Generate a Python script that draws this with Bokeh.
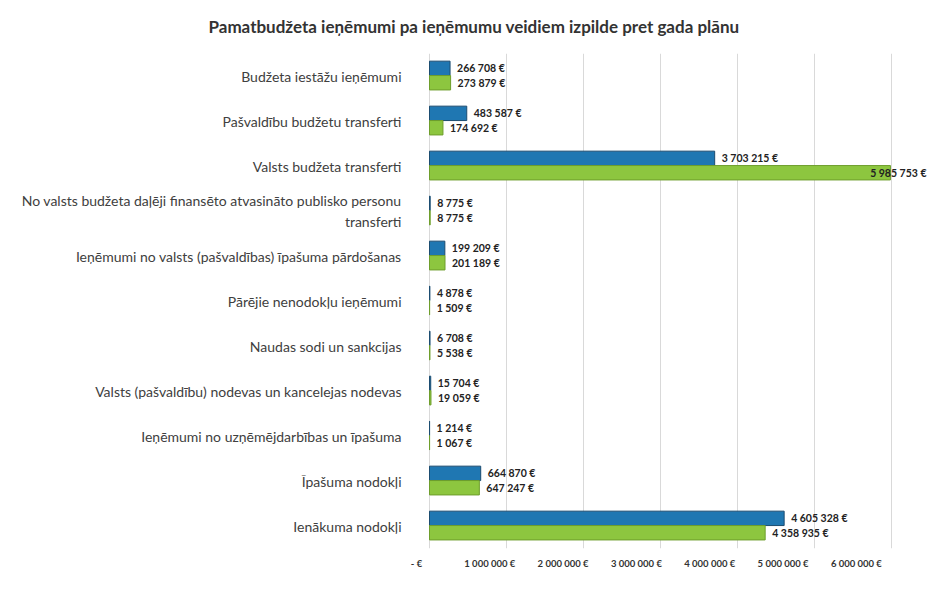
from bokeh.plotting import figure
from bokeh.models import (ColumnDataSource, FactorRange, FixedTicker, Legend, LegendItem,
                          Range1d, LinearAxis)
from bokeh.transform import dodge
from bokeh.core.properties import value
from bokeh.embed import file_html
from bokeh.resources import INLINE

categories = [
    "Budžeta iestāžu ieņēmumi",
    "Pašvaldību budžetu transferti",
    "Valsts budžeta transferti",
    "No valsts budžeta daļēji finansēto atvasināto publisko personu\ntransferti",
    "Ieņēmumi no valsts (pašvaldības) īpašuma pārdošanas",
    "Pārējie nenodokļu ieņēmumi",
    "Naudas sodi un sankcijas",
    "Valsts (pašvaldību) nodevas un kancelejas nodevas",
    "Ieņēmumi no uzņēmējdarbības un īpašuma",
    "Īpašuma nodokļi",
    "Ienākuma nodokļi",
]
izpilde_2019 = [266708, 483587, 3703215, 8775, 199209, 4878, 6708, 15704, 1214, 664870, 4605328]
plans_2019 = [273879, 174692, 5985753, 8775, 201189, 1509, 5538, 19059, 1067, 647247, 4358935]
tick_values = [0, 1000000, 2000000, 3000000, 4000000, 5000000, 6000000]
tick_labels = ["- €", "1 000 000 €", "2 000 000 €", "3 000 000 €", "4 000 000 €", "5 000 000 €", "6 000 000 €"]
series_names = ["2019.gada izpilde", "Plāns 2019.gadam"]
title_text = "Pamatbudžeta ieņēmumi pa ieņēmumu veidiem izpilde pret gada plānu"

X_START, X_END = -182000, 6506000
LABEL_ROOM = 700000  # data units needed to show a value label to the right of a bar


def fmt(v):
    return f"{v:,}".replace(",", " ") + " €"


def label_pos(vals):
    xs, aligns, offs = [], [], []
    for v in vals:
        if v + LABEL_ROOM > X_END:
            xs.append(X_END); aligns.append("right"); offs.append(-4)
        else:
            xs.append(v); aligns.append("left"); offs.append(7)
    return xs, aligns, offs


xi, ai, oi = label_pos(izpilde_2019)
xp, ap, op = label_pos(plans_2019)

src = ColumnDataSource(dict(
    cat=categories,
    izp=izpilde_2019,
    pl=plans_2019,
    lbl_izp=[fmt(v) for v in izpilde_2019],
    lbl_pl=[fmt(v) for v in plans_2019],
    xi=xi, ai=ai, oi=oi, xp=xp, ap=ap, op=op,
))

p = figure(
    frame_width=515, frame_height=495,
    y_range=FactorRange(*reversed(categories)),
    x_range=Range1d(X_START, X_END),
    output_backend="svg", toolbar_location=None,
    min_border_left=415, min_border_right=1, min_border_top=53, min_border_bottom=0,
    outline_line_color=None,
)
p.title.text = title_text
p.title.align = "left"
p.title.offset = -207
p.title.vertical_align = "top"
p.title.text_font = "Lato"
p.title.text_font_size = "17px"
p.title.text_font_style = "bold"
p.title.text_color = "#333333"
p.title.standoff = 30

blue = "#1f77b2"
green = "#8dc63f"

r1 = p.hbar(y=dodge("cat", 0.17, range=p.y_range), right="izp", left=0, height=0.32,
            source=src, fill_color=blue, line_color="#1b4c70", line_width=1)
r2 = p.hbar(y=dodge("cat", -0.15, range=p.y_range), right="pl", left=0, height=0.32,
            source=src, fill_color=green, line_color="#6e9e2c", line_width=1)

common = dict(source=src, text_baseline="middle",
              text_font=value("Lato"), text_font_size="10.5px", text_color="#222222",
              text_font_style="bold")
p.text(x="xi", y=dodge("cat", 0.17, range=p.y_range), text="lbl_izp",
       text_align="ai", x_offset="oi", **common)
p.text(x="xp", y=dodge("cat", -0.15, range=p.y_range), text="lbl_pl",
       text_align="ap", x_offset="op", **common)

# primary x axis only drives the grid; labels sit on the perspective "floor" axis
p.xaxis.visible = False
p.extra_x_ranges = {"floor": Range1d(-13600, 7011000)}
floor_axis = LinearAxis(x_range_name="floor", ticker=FixedTicker(ticks=tick_values))
floor_axis.major_label_overrides = {t: l for t, l in zip(tick_values, tick_labels)}
floor_axis.major_label_text_font = "Lato"
floor_axis.major_label_text_font_size = "9.5px"
floor_axis.major_label_text_font_style = "bold"
floor_axis.major_label_text_color = "#333333"
floor_axis.axis_line_color = None
floor_axis.major_tick_line_color = None
floor_axis.minor_tick_line_color = None
floor_axis.major_tick_out = 0
floor_axis.major_tick_in = 0
floor_axis.major_label_standoff = 9
floor_axis.axis_label = " "
floor_axis.axis_label_text_font_size = "2px"
floor_axis.axis_label_standoff = 6
p.add_layout(floor_axis, "below")

p.yaxis.major_label_text_font = "Lato"
p.yaxis.major_label_text_font_size = "14px"
p.yaxis.major_label_text_color = "#404040"
p.yaxis.axis_line_color = None
p.yaxis.major_tick_line_color = None
p.yaxis.minor_tick_line_color = None
p.yaxis.major_tick_out = 0
p.yaxis.major_label_standoff = 14

p.ygrid.grid_line_color = None
p.xgrid.grid_line_color = "#d9d9d9"
p.xgrid.ticker = FixedTicker(ticks=tick_values)

legend = Legend(items=[LegendItem(label=series_names[0], renderers=[r1]),
                       LegendItem(label=series_names[1], renderers=[r2])],
                orientation="horizontal", location="top_left",
                label_text_font="Lato", label_text_font_size="14px",
                label_text_color="#333333", glyph_width=9, glyph_height=9,
                spacing=18, border_line_color=None, padding=1, margin=0,
                background_fill_alpha=0)
p.add_layout(legend, "below")

open("out.html", "w").write(file_html(p, INLINE))
